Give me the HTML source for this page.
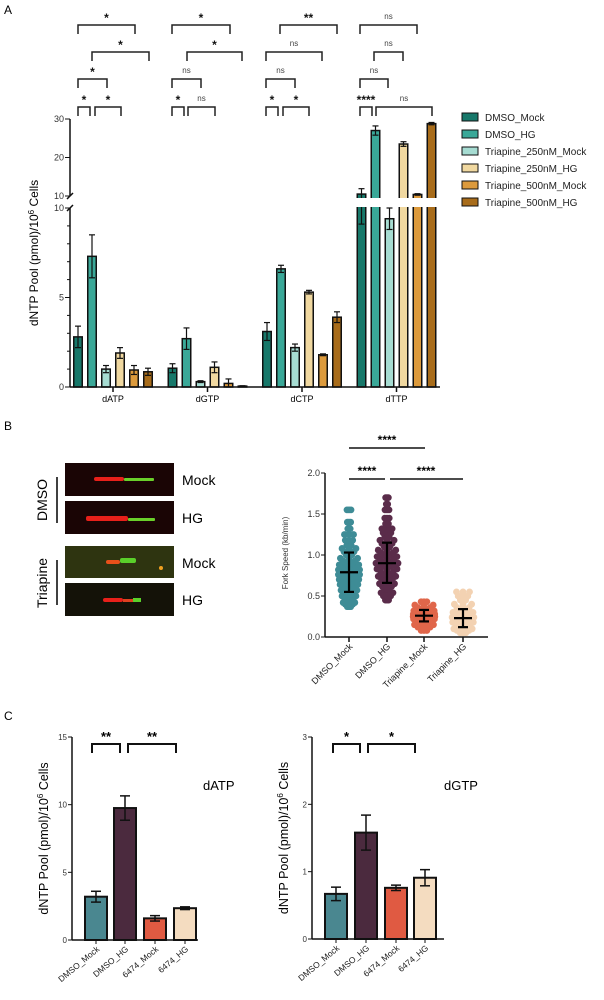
<!DOCTYPE html>
<html><head><meta charset="utf-8">
<style>
body{margin:0;background:#fff;width:604px;height:1000px;overflow:hidden;font-family:"Liberation Sans",Arial,sans-serif}
svg{position:absolute;left:0;top:0}
text{font-family:"Liberation Sans",Arial,sans-serif}
</style></head>
<body>
<svg id="fig" width="604" height="1000" viewBox="0 0 604 1000">
<text x="4" y="14" font-size="12">A</text>
<text x="4" y="430" font-size="12">B</text>
<text x="4" y="720" font-size="12">C</text>
<g>
<rect x="65" y="463" width="109" height="33" fill="#1a0505"/>
<rect x="94" y="477" width="30" height="4" fill="#e8201a" rx="2"/><rect x="124" y="478" width="30" height="3" fill="#6ad02a" rx="1"/>
<rect x="65" y="501" width="109" height="33" fill="#1a0505"/>
<rect x="86" y="516" width="42" height="5" fill="#e8201a" rx="2"/><rect x="128" y="518" width="27" height="3" fill="#6ad02a" rx="1"/>
<rect x="65" y="546" width="109" height="32" fill="#2e3410"/>
<rect x="106" y="560" width="14" height="4" fill="#e8501a" rx="2"/><rect x="120" y="558" width="16" height="5" fill="#5ad02a" rx="2"/><circle cx="161" cy="568" r="2" fill="#f0a020"/>
<rect x="65" y="583" width="109" height="33" fill="#141208"/>
<rect x="103" y="598" width="20" height="4" fill="#e8201a" rx="2"/><rect x="123" y="599" width="10" height="3" fill="#e04020"/><rect x="133" y="598" width="8" height="4" fill="#5ad02a"/>
<text x="182" y="485" font-size="14">Mock</text>
<text x="182" y="523" font-size="14">HG</text>
<text x="182" y="568" font-size="14">Mock</text>
<text x="182" y="605" font-size="14">HG</text>
<line x1="57" y1="477" x2="57" y2="523" stroke="#000" stroke-width="1.5"/>
<line x1="57" y1="560" x2="57" y2="605" stroke="#000" stroke-width="1.5"/>
<text transform="translate(47,500) rotate(-90)" text-anchor="middle" font-size="14">DMSO</text>
<text transform="translate(47,583) rotate(-90)" text-anchor="middle" font-size="14">Triapine</text>
</g>
</svg>
<script>
const NS="http://www.w3.org/2000/svg";
const fig=document.getElementById('fig');
function mk(tag,at,parent,txt){const e=document.createElementNS(NS,tag);for(const k in at)e.setAttribute(k,at[k]);if(txt!==undefined)e.textContent=txt;(parent||fig).appendChild(e);return e;}

// ===== Panel A data =====
const aCategories=["dATP","dGTP","dCTP","dTTP"];
const aSeriesNames=["DMSO_Mock","DMSO_HG","Triapine_250nM_Mock","Triapine_250nM_HG","Triapine_500nM_Mock","Triapine_500nM_HG"];
const aDmsoMock=[2.8,1.05,3.1,10.5];
const aDmsoHG=[7.3,2.7,6.6,27];
const aTri250Mock=[1.0,0.3,2.2,9.4];
const aTri250HG=[1.9,1.1,5.3,23.5];
const aTri500Mock=[0.95,0.2,1.8,10.4];
const aTri500HG=[0.85,0.05,3.9,28.8];
const aErrDmsoMock=[0.6,0.25,0.5,1.4];
const aErrDmsoHG=[1.2,0.6,0.2,1.2];
const aErrTri250Mock=[0.2,0.05,0.2,0.6];
const aErrTri250HG=[0.3,0.3,0.1,0.6];
const aErrTri500Mock=[0.25,0.25,0.05,0.2];
const aErrTri500HG=[0.2,0.02,0.3,0.3];
const aLowTicks=[0,5,10];
const aHighTicks=[10,20,30];
const aSigLabels=[["*","*","*","*","*"],["*","*","ns","*","ns"],["**","ns","ns","*","*"],["ns","ns","ns","****","ns"]];

// ===== Panel B data =====
const bCategories=["DMSO_Mock","DMSO_HG","Triapine_Mock","Triapine_HG"];
const bDmsoMock=[0.37,0.4,0.42,0.45,0.48,0.5,0.52,0.55,0.57,0.6,0.62,0.64,0.66,0.68,0.7,0.72,0.74,0.76,0.78,0.8,0.82,0.84,0.86,0.88,0.9,0.93,0.96,1.0,1.04,1.08,1.12,1.18,1.25,1.32,1.4,1.55];
const bDmsoHG=[0.45,0.5,0.54,0.58,0.62,0.65,0.68,0.71,0.74,0.77,0.8,0.83,0.86,0.88,0.9,0.92,0.95,0.98,1.0,1.03,1.06,1.1,1.14,1.18,1.22,1.27,1.32,1.38,1.45,1.55,1.62,1.7];
const bTriMock=[0.08,0.12,0.15,0.18,0.2,0.22,0.23,0.24,0.25,0.26,0.27,0.28,0.29,0.3,0.32,0.34,0.36,0.39,0.43];
const bTriHG=[0.05,0.08,0.1,0.13,0.16,0.18,0.2,0.22,0.24,0.26,0.28,0.3,0.33,0.36,0.4,0.45,0.5,0.55];
const bMeans=[0.79,0.9,0.26,0.23];
const bSdLow=[0.55,0.66,0.19,0.12];
const bSdHigh=[1.03,1.15,0.33,0.34];
const bTicks=[0,0.5,1.0,1.5,2.0];

// ===== Panel C data =====
const cCategories=["DMSO_Mock","DMSO_HG","6474_Mock","6474_HG"];
const cDatp=[3.2,9.75,1.6,2.35];
const cDatpErr=[0.4,0.9,0.2,0.1];
const cDgtp=[0.67,1.58,0.76,0.91];
const cDgtpErr=[0.1,0.26,0.04,0.12];
const cDatpTicks=[0,5,10,15];
const cDgtpTicks=[0,1,2,3];

// ===== Panel A =====
(function(){
  const g=mk('g',{});
  
  
  const X0=70,X1=440,base=387,lowTop=208,hiBot=196,hiTop=119;
  const yLow=v=>base-(v/10)*(base-lowTop);
  const yHi=v=>hiBot-((v-10)/20)*(hiBot-hiTop);
  const yA=v=>v<=10?yLow(v):yHi(v);
  const colors=["#17786a","#3aa898","#a6dcd2","#f0d8a0","#dc9a3c","#a86c1a"];
  const series=[aDmsoMock,aDmsoHG,aTri250Mock,aTri250HG,aTri500Mock,aTri500HG];
  const errs=[aErrDmsoMock,aErrDmsoHG,aErrTri250Mock,aErrTri250HG,aErrTri500Mock,aErrTri500HG];
  const gx=i=>113+i*94.5;
  const bw=8.5,pitch=14;
  series.forEach((s,si)=>{
    s.forEach((v,ci)=>{
      const x=gx(ci)-2.5*pitch+si*pitch-bw/2;
      const y=yA(v);
      const r=mk('rect',{x:x,y:y,width:bw,height:base-y,fill:colors[si],stroke:"#111","stroke-width":1.5},g);
      
      
      const ve=v+errs[si][ci],vl=Math.max(0,v-errs[si][ci]),cx=x+bw/2;
      mk('line',{x1:cx,y1:yA(ve),x2:cx,y2:yA(vl),stroke:"#111","stroke-width":1.2},g);
      mk('line',{x1:cx-3,y1:yA(ve),x2:cx+3,y2:yA(ve),stroke:"#111","stroke-width":1.2},g);
      mk('line',{x1:cx-3,y1:yA(vl),x2:cx+3,y2:yA(vl),stroke:"#111","stroke-width":1.2},g);
    });
  });
  mk('rect',{x:X0+3,y:198,width:X1-X0,height:9,fill:"#fff"},g);
  mk('line',{x1:X0,y1:base,x2:X1,y2:base,stroke:"#111","stroke-width":1.5},g);
  mk('line',{x1:X0,y1:base,x2:X0,y2:lowTop,stroke:"#111","stroke-width":1.5},g);
  mk('line',{x1:X0,y1:hiBot,x2:X0,y2:hiTop,stroke:"#111","stroke-width":1.5},g);
  mk('line',{x1:X0-3,y1:hiBot+3,x2:X0+3,y2:hiBot-3,stroke:"#111","stroke-width":1.5},g);
  mk('line',{x1:X0-3,y1:lowTop+3,x2:X0+3,y2:lowTop-3,stroke:"#111","stroke-width":1.5},g);
  for(let m=1;m<10;m++){if(m!==5)mk('line',{x1:X0-3,y1:yLow(m),x2:X0,y2:yLow(m),stroke:"#111"},g);}
  aLowTicks.forEach(t=>{mk('line',{x1:X0-5,y1:yLow(t),x2:X0,y2:yLow(t),stroke:"#111"},g);
    const l=mk('text',{x:X0-6,y:yLow(t)+3,"font-size":9,"text-anchor":"end",fill:"#333"},g,String(t));
    });
  aHighTicks.forEach(t=>{mk('line',{x1:X0-5,y1:yHi(t),x2:X0,y2:yHi(t),stroke:"#111"},g);
    const l=mk('text',{x:X0-6,y:yHi(t)+3,"font-size":9,"text-anchor":"end",fill:"#333"},g,String(t));
    });
  aCategories.forEach((c,i)=>{mk('line',{x1:gx(i),y1:base,x2:gx(i),y2:base+5,stroke:"#111","stroke-width":1.5},g);
    const l=mk('text',{x:gx(i),y:base+15,"font-size":9,"text-anchor":"middle"},g,c);
    });
  const yl=mk('text',{transform:"translate(38,253) rotate(-90)","font-size":12,"text-anchor":"middle"},g);
  
  yl.innerHTML='dNTP Pool (pmol)/10<tspan dy="-4" font-size="8">6</tspan><tspan dy="4"> Cells</tspan>';
  const br=[[0,0,78,135],[0,1,92,149],[0,2,78,107],[0,3,78,90],[0,3,95,121],
            [1,0,172,230],[1,1,187,242],[1,2,172,201],[1,3,172,184],[1,3,188,215],
            [2,0,280,337],[2,1,266,322],[2,2,266,295],[2,3,266,278],[2,3,283,309],
            [3,0,360,417],[3,1,374,403],[3,2,360,388],[3,3,360,372],[3,3,376,432]];
  const rowY=[25,52,79,107];
  br.forEach((b,i)=>{const y=rowY[b[1]];
    mk('path',{d:`M${b[2]},${y+9}V${y}H${b[3]}V${y+9}`,fill:"none",stroke:"#222","stroke-width":1.5},g);
    const lab=aSigLabels[b[0]][i%5];
    const t=mk('text',{x:(b[2]+b[3])/2,y:lab==="ns"?y-6:y-3,"font-size":lab==="ns"?8:12,"text-anchor":"middle","font-weight":"bold",fill:lab==="ns"?"#444":"#111"},g,lab);
    if(lab==="ns")t.setAttribute('font-weight','normal');
    });
  aSeriesNames.forEach((n,i)=>{const y=113+i*17;
    const sw=mk('rect',{x:462,y:y,width:16,height:8,fill:colors[i],stroke:"#111","stroke-width":1},g);
    
    const t=mk('text',{x:485,y:y+8,"font-size":10,fill:"#222"},g,n);
    });
})();

// ===== Panel B =====
(function(){
  const g=mk('g',{});
  
  
  const X0=325,X1=488,y0=637,y2=473;
  const y=v=>y0-(v/2)*(y0-y2);
  const cx=[349,387,424,463];
  const cols=["#3e8c96","#5a2c4a","#e0664a","#f3d2b2"];
  const groups=[bDmsoMock,bDmsoHG,bTriMock,bTriHG];
  groups.forEach((arr,gi)=>{
    arr.forEach((v,k)=>{
      const spread=Math.max(2,11-Math.abs(v-bMeans[gi])*14);
      [-1,0,1].forEach(s=>{
        const c=mk('circle',{cx:cx[gi]+s*spread*((k%3)+1)/3,cy:y(v),r:3.4,fill:cols[gi]},g);
        
        
      });
    });
    const st={stroke:"#000","stroke-width":2.2};
    mk('line',Object.assign({x1:cx[gi],y1:y(bSdLow[gi]),x2:cx[gi],y2:y(bSdHigh[gi])},st),g);
    mk('line',Object.assign({x1:cx[gi]-5,y1:y(bSdLow[gi]),x2:cx[gi]+5,y2:y(bSdLow[gi])},st),g);
    mk('line',Object.assign({x1:cx[gi]-5,y1:y(bSdHigh[gi]),x2:cx[gi]+5,y2:y(bSdHigh[gi])},st),g);
    const m=mk('line',Object.assign({x1:cx[gi]-9,y1:y(bMeans[gi]),x2:cx[gi]+9,y2:y(bMeans[gi])},st),g);
    
    mk('line',{x1:cx[gi],y1:y0,x2:cx[gi],y2:y0+5,stroke:"#111","stroke-width":1.5},g);
    const t=mk('text',{transform:`translate(${cx[gi]+4},${y0+10}) rotate(-45)`,"font-size":9,"text-anchor":"end",fill:"#222"},g,bCategories[gi]);
    
  });
  mk('line',{x1:X0,y1:y0,x2:X1,y2:y0,stroke:"#111","stroke-width":1.5},g);
  mk('line',{x1:X0,y1:y0,x2:X0,y2:y2,stroke:"#111","stroke-width":1.5},g);
  bTicks.forEach(t=>{mk('line',{x1:X0-4,y1:y(t),x2:X0,y2:y(t),stroke:"#111"},g);
    const l=mk('text',{x:X0-5,y:y(t)+3,"font-size":9,"text-anchor":"end",fill:"#333"},g,t.toFixed(1));
    });
  const yl=mk('text',{transform:"translate(288,553) rotate(-90)","font-size":8,"text-anchor":"middle",fill:"#333"},g,"Fork Speed (kb/min)");
  
  [[349,425,448,387],[349,385,479,367],[390,463,479,426]].forEach(s=>{
    mk('line',{x1:s[0],y1:s[2],x2:s[1],y2:s[2],stroke:"#111","stroke-width":1.5},g);
    const t=mk('text',{x:s[3],y:s[2]-4,"font-size":12,"font-weight":"bold","text-anchor":"middle"},g,"****");
    });
})();

// ===== Panel C =====
function barPanel(name,X0,X1,yTop,y0,ticks,vals,errv,barX,sig,label,labelX){
  const g=mk('g',{});
  
  
  const max=ticks[ticks.length-1];
  const y=v=>y0-(v/max)*(y0-yTop);
  const cols=["#4a8790","#4b2a3e","#e05a42","#f4dcc0"];
  vals.forEach((v,i)=>{
    const x=barX[i],w=22;
    const r=mk('rect',{x:x,y:y(v),width:w,height:y0-y(v),fill:cols[i],stroke:"#111","stroke-width":2},g);
    
    
    const c=x+w/2;
    mk('line',{x1:c,y1:y(v-errv[i]),x2:c,y2:y(v+errv[i]),stroke:"#111","stroke-width":1.5},g);
    mk('line',{x1:c-5,y1:y(v+errv[i]),x2:c+5,y2:y(v+errv[i]),stroke:"#111","stroke-width":1.5},g);
    mk('line',{x1:c-5,y1:y(v-errv[i]),x2:c+5,y2:y(v-errv[i]),stroke:"#111","stroke-width":1.5},g);
    mk('line',{x1:c,y1:y0,x2:c,y2:y0+4,stroke:"#111"},g);
    const t=mk('text',{transform:`translate(${c+4},${y0+10}) rotate(-40)`,"font-size":8.5,"text-anchor":"end",fill:"#222"},g,cCategories[i]);
    
  });
  mk('line',{x1:X0,y1:y0,x2:X1,y2:y0,stroke:"#111","stroke-width":1.5},g);
  mk('line',{x1:X0,y1:y0,x2:X0,y2:yTop,stroke:"#111","stroke-width":1.5},g);
  ticks.forEach(t=>{mk('line',{x1:X0-4,y1:y(t),x2:X0,y2:y(t),stroke:"#111"},g);
    const l=mk('text',{x:X0-5,y:y(t)+3,"font-size":8,"text-anchor":"end",fill:"#333"},g,String(t));
    });
  const yl=mk('text',{transform:`translate(${X0-24},${(y0+yTop)/2}) rotate(-90)`,"font-size":12.5,"text-anchor":"middle"},g);
  
  yl.innerHTML='dNTP Pool (pmol)/10<tspan dy="-5" font-size="8">6</tspan><tspan dy="5"> Cells</tspan>';
  sig.forEach(s=>{
    mk('path',{d:`M${s[0]},753V744H${s[1]}V753`,fill:"none",stroke:"#111","stroke-width":2},g);
    const t=mk('text',{x:(s[0]+s[1])/2,y:741,"font-size":13,"font-weight":"bold","text-anchor":"middle"},g,s[2]);
    });
  const tl=mk('text',{x:labelX,y:790,"font-size":13},g,label);
  
}
barPanel('panel-c-datp-chart',72,198,737,940,cDatpTicks,cDatp,cDatpErr,[85,114,144,174],[[92,120,"**"],[128,176,"**"]],"dATP",203);
barPanel('panel-c-dgtp-chart',312,444,737,939,cDgtpTicks,cDgtp,cDgtpErr,[325,355,385,414],[[333,360,"*"],[368,415,"*"]],"dGTP",444);
</script>
</body></html>
